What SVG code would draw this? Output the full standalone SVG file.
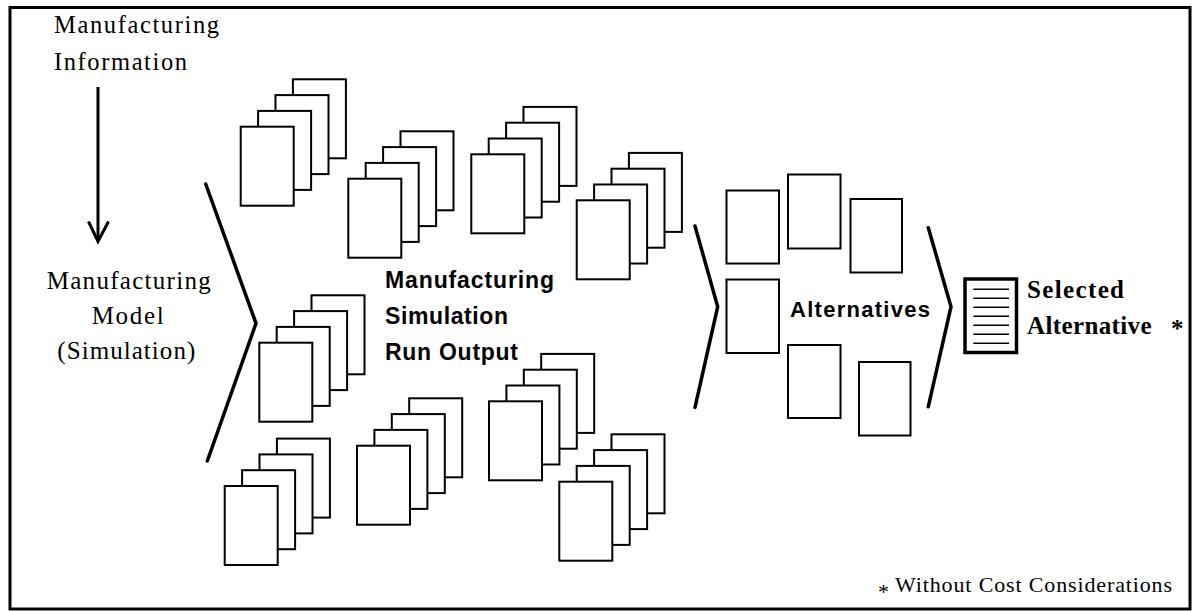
<svg xmlns="http://www.w3.org/2000/svg" width="1192" height="611" viewBox="0 0 1192 611">
<style>
.pg{fill:#fff;stroke:#000;stroke-width:2}
.chev{fill:none;stroke:#000;stroke-width:3.5;stroke-linejoin:miter;stroke-linecap:round}
.serif{font-family:"Liberation Serif","Times New Roman",serif;fill:#000}
.sans{font-family:"Liberation Sans",Arial,sans-serif;font-weight:bold;fill:#000}
</style>
<defs>
<g id="stack">
<rect class="pg" x="52.2" y="-47.4" width="53" height="79"/>
<rect class="pg" x="34.8" y="-31.6" width="53" height="79"/>
<rect class="pg" x="17.4" y="-15.8" width="53" height="79"/>
<rect class="pg" x="0" y="0" width="53" height="79"/>
</g>
</defs>
<rect x="0" y="0" width="1192" height="611" fill="#fff"/>
<rect id="frame" x="10" y="7.5" width="1180" height="601.5" fill="none" stroke="#000" stroke-width="3"/>

<g id="info">
<text class="serif" x="54" y="33" font-size="24.5" textLength="165" lengthAdjust="spacing">Manufacturing</text>
<text class="serif" x="54" y="70" font-size="24.5" textLength="133" lengthAdjust="spacing">Information</text>
</g>

<g id="model">
<text class="serif" x="46.7" y="289" font-size="25" textLength="164" lengthAdjust="spacing">Manufacturing</text>
<text class="serif" x="91.7" y="324" font-size="25" textLength="72" lengthAdjust="spacing">Model</text>
<text class="serif" x="57.3" y="359" font-size="25" textLength="138" lengthAdjust="spacing">(Simulation)</text>
</g>

<g id="connectors">
<line x1="98" y1="87" x2="98" y2="240" stroke="#000" stroke-width="3"/>
<polyline points="88.5,221.5 98,241.5 108.5,221.5" fill="none" stroke="#000" stroke-width="3" stroke-linejoin="miter"/>
<polyline class="chev" points="205.7,184 256,323.3 207.3,461"/>
<polyline class="chev" points="695,226 717.7,306.7 695,407.3"/>
<polyline class="chev" points="928.3,227.7 951,306.7 928.3,406.7"/>
</g>

<g id="runs">
<use href="#stack" x="240.7" y="126.7"/>
<use href="#stack" x="348.3" y="178.7"/>
<use href="#stack" x="471.3" y="154.3"/>
<use href="#stack" x="576.7" y="200.3"/>
<use href="#stack" x="259.3" y="342.7"/>
<use href="#stack" x="224.7" y="486"/>
<use href="#stack" x="357" y="445.7"/>
<use href="#stack" x="489" y="401.3"/>
<use href="#stack" x="559.3" y="481.7"/>
</g>

<g id="runlabel">
<text class="sans" x="385" y="288" font-size="23" textLength="169" lengthAdjust="spacing">Manufacturing</text>
<text class="sans" x="385" y="324" font-size="23" textLength="123" lengthAdjust="spacing">Simulation</text>
<text class="sans" x="385" y="360" font-size="23" textLength="133" lengthAdjust="spacing">Run Output</text>
</g>

<g id="alternatives">
<rect class="pg" x="726.5" y="190.5" width="52.5" height="73"/>
<rect class="pg" x="788" y="174.5" width="52.5" height="74"/>
<rect class="pg" x="850.5" y="199" width="51.5" height="73.5"/>
<rect class="pg" x="726.5" y="279.5" width="52.5" height="73.5"/>
<rect class="pg" x="788" y="345" width="52.5" height="73"/>
<rect class="pg" x="859" y="362" width="51.5" height="73.5"/>
<text class="sans" x="790" y="317" font-size="22" textLength="140" lengthAdjust="spacing">Alternatives</text>
</g>

<g id="selected">
<rect x="965" y="279" width="51.5" height="73.5" fill="#fff" stroke="#000" stroke-width="3.5"/>
<g stroke="#000" stroke-width="1.5">
<line x1="973.3" y1="289.3" x2="1009" y2="289.3"/>
<line x1="973.3" y1="298.3" x2="1009" y2="298.3"/>
<line x1="973.3" y1="307.3" x2="1009" y2="307.3"/>
<line x1="973.3" y1="316.3" x2="1009" y2="316.3"/>
<line x1="973.3" y1="325.3" x2="1009" y2="325.3"/>
<line x1="973.3" y1="334.3" x2="1009" y2="334.3"/>
<line x1="973.3" y1="343.3" x2="1009" y2="343.3"/>
</g>
<text class="serif" x="1027" y="298" font-size="25" font-weight="bold" textLength="97" lengthAdjust="spacing">Selected</text>
<text class="serif" x="1027" y="334" font-size="25" font-weight="bold" textLength="124.5" lengthAdjust="spacing">Alternative</text>
<text class="serif" x="1171" y="337" font-size="25" font-weight="bold">*</text>
</g>

<g id="footnote">
<text class="serif" x="878" y="599" font-size="22">*</text>
<text class="serif" x="895" y="591.5" font-size="22" textLength="277" lengthAdjust="spacing">Without Cost Considerations</text>
</g>
</svg>
